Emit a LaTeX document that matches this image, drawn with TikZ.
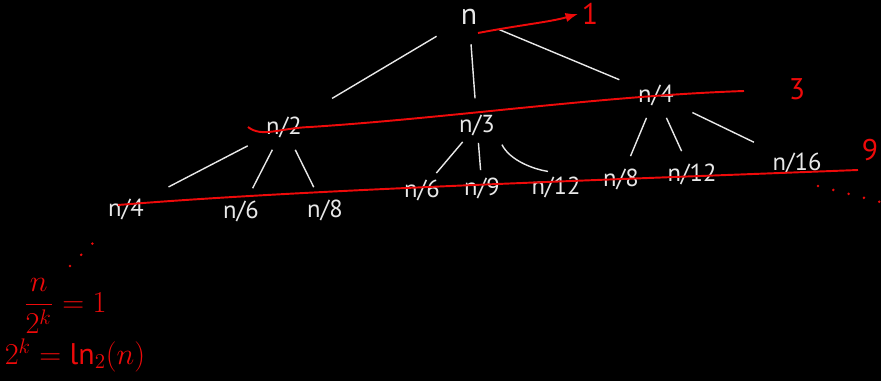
\documentclass[tikz,border=0pt]{standalone}
\usepackage{amsmath,amssymb}
\usepackage{fontspec}
\setmainfont{PT Sans}
\usetikzlibrary{arrows.meta,positioning,calc}
\definecolor{chalk}{HTML}{E8E8E8}
\definecolor{inkred}{HTML}{EE0A0A}
\tikzset{
  term/.style={
    text=chalk,
    font=\fontsize{14}{16}\selectfont,
    inner sep=5pt
  },
  redterm/.style={
    text=inkred,
    font=\fontsize{17}{19}\selectfont,
    inner sep=2pt
  },
  branch/.style={draw=chalk,thick,shorten >=2pt,shorten <=2pt},
  levelline/.style={draw=inkred,line width=1.1pt},
  dotted red/.style={draw=inkred,line width=1.6pt,line cap=round,dash pattern=on 0pt off 9pt}
}

\begin{document}
\begin{tikzpicture}[x=0.02cm,y=-0.02cm]
    \fill[black] (0,0) rectangle (881,381);
    \useasboundingbox (0,0) rectangle (881,381);

    % tree
    \node[term,font=\fontsize{17}{19}\selectfont] (root) at (469,17) {n};
    \node[term] (half) at (284,127) {n/2};
    \node[term] (third) at (477,125) {n/3};
    \node[term] (quarter) at (656,95) {n/4};

    \node[term] (h4) at (126,209) {n/4};
    \node[term] (h6) at (241,211) {n/6};
    \node[term] (h8) at (325,210) {n/8};
    \node[term] (t6) at (422,190) {n/6};
    \node[term] (t9) at (482,188) {n/9};
    \node[term] (t12) at (556,187) {n/12};
    \node[term] (q8) at (621,179) {n/8};
    \node[term] (q12) at (692,174) {n/12};
    \node[term] (q16) at (797,163) {n/16};

    \draw[branch,shorten <=10pt,shorten >=14pt] (root) -- (half);
    \draw[branch,shorten <=6pt,shorten >=4pt] (root) -- (third);
    \draw[branch,shorten <=8pt,shorten >=6pt] (root) -- (quarter);
    \draw[branch,shorten <=6pt,shorten >=10pt] (half) -- (h4);
    \draw[branch] (half) -- (h6);
    \draw[branch] (half) -- (h8);
    \draw[branch,shorten <=-2pt,shorten >=-2pt] (third) -- (t6);
    \draw[branch,shorten <=-1pt,shorten >=-1pt] (third) -- (t9);
    \draw[branch,shorten <=0pt,shorten >=0pt] ($(third.south east)+(-2,0)$)
      .. controls +(8,16) and +(-14,-2) .. ($(t12.north)+(-8,4)$);
    \draw[branch] (quarter) -- (q8);
    \draw[branch] (quarter) -- (q12);
    \draw[branch,shorten <=6pt,shorten >=6pt] (quarter) -- (q16);

    % counts per level
    \node[redterm] (cnt1) at (590,14) {1};
    \node[redterm] (cnt3) at (797,89) {3};
    \node[redterm] (cnt9) at (870,150) {9};
    \coordinate (s1) at (478,33);
    \draw[levelline,-{Latex[length=2.5mm]}] (s1) .. controls (520,25) and (550,22) .. (cnt1.west);
    \draw[levelline] (248,127) .. controls (262,138) and (280,128) .. (310,127)
      .. controls (450,118) and (600,96) .. (744,91);
    \draw[levelline] (118,205) .. controls (300,190) and (600,180) .. (858,170);
    \draw[dotted red] (818,186) -- (880,202);
    \draw[dotted red] (70,266) -- (98,238);

    % depth
    \node[redterm] (depth) at (65,306) {$\dfrac{n}{2^k}=1$};
    \node[redterm] (solve) at (75,355) {$2^k=\ln_2(n)$};
\end{tikzpicture}
\end{document}
